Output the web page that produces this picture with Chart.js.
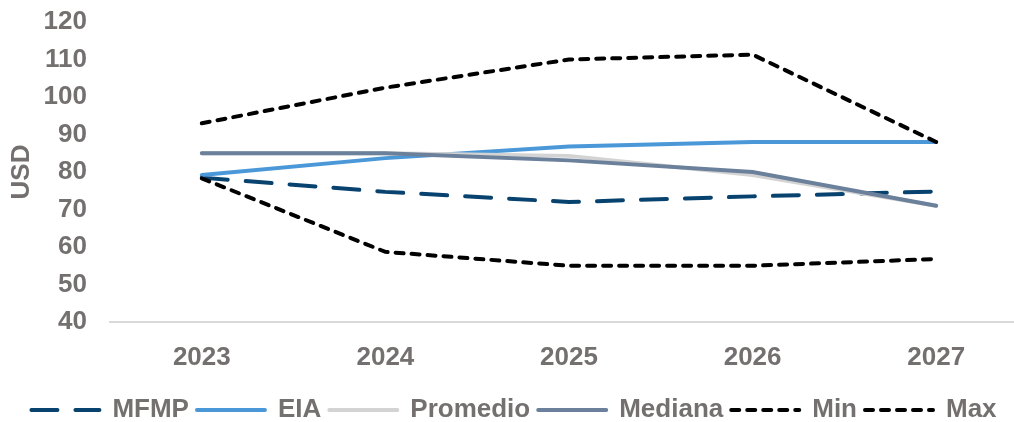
<!DOCTYPE html>
<html>
<head>
<meta charset="utf-8">
<script src="https://cdn.jsdelivr.net/npm/chart.js@4/dist/chart.umd.min.js"></script>
<style>
  html, body { margin: 0; padding: 0; background: #fff; overflow: hidden; }
  #wrap { width: 1028px; height: 433px; }
</style>
</head>
<body>
<div id="wrap"><canvas id="priceChart"></canvas></div>
<script>
const years = ['2023', '2024', '2025', '2026', '2027'];
const mfmp = [78.5, 74.7, 72, 73.5, 74.8];
const eia = [79.2, 83.7, 86.8, 88, 88];
const promedio = [85, 85, 84.3, 79.2, 71];
const mediana = [85, 85, 83.1, 80, 71];
const minVals = [78.3, 58.7, 55, 55, 56.8];
const maxVals = [93, 102.5, 110, 111.3, 88];
const yTicks = [40, 50, 60, 70, 80, 90, 100, 110, 120];

const textGray = '#757070';
const font = { family: 'Liberation Sans, Arial, sans-serif', size: 26, weight: 'bold' };

function series(label, data, color, dash, order) {
    return {
        label: label,
        data: data,
        borderColor: color,
        backgroundColor: color,
        borderWidth: 4,
        borderDash: dash,
        borderCapStyle: 'round',
        pointRadius: 0,
        pointHoverRadius: 0,
        tension: 0,
        fill: false,
        order: order
    };
}

const ctx = document.getElementById('priceChart').getContext('2d');

new Chart(ctx, {
    type: 'line',
    data: {
        labels: years,
        datasets: [
            series('MFMP', mfmp, '#08426e', [26, 18], 6),
            series('EIA', eia, '#4b98d9', [], 5),
            series('Promedio', promedio, '#d3d3d3', [], 4),
            series('Mediana', mediana, '#6b809b', [], 3),
            series('Min', minVals, '#000000', [8, 8], 2),
            series('Max', maxVals, '#000000', [8, 8], 1)
        ]
    },
    options: {
        responsive: true,
        maintainAspectRatio: false,
        animation: false,
        layout: { padding: { top: 22, right: 0, bottom: 0, left: 0 } },
        plugins: {
            legend: {
                position: 'bottom',
                labels: {
                    usePointStyle: true,
                    pointStyle: 'line',
                    pointStyleWidth: 68,
                    boxHeight: 26,
                    padding: 8,
                    color: textGray,
                    font: font,
                    sort: (a, b) => a.datasetIndex - b.datasetIndex,
                    // keep the dash pattern of each line in the legend sample
                    generateLabels: (chart) => {
                        const items = Chart.defaults.plugins.legend.labels.generateLabels(chart);
                        items.forEach(it => {
                            const ds = chart.data.datasets[it.datasetIndex];
                            it.lineDash = ds.borderDash;
                            it.lineCap = 'round';
                            it.strokeStyle = ds.borderColor;
                            it.lineWidth = 4;
                        });
                        return items;
                    }
                }
            },
            tooltip: { enabled: false }
        },
        scales: {
            x: {
                offset: true,
                grid: { display: false },
                border: { display: true, color: '#d9d9d9', width: 2 },
                ticks: { color: textGray, font: font, padding: 12 },
                afterFit: (s) => { s.height = 67; }
            },
            y: {
                min: 40,
                max: 120,
                afterBuildTicks: (s) => { s.ticks = yTicks.map(v => ({ value: v })); },
                grid: { display: false, drawTicks: false },
                border: { display: false },
                ticks: { color: textGray, font: font, padding: 23 },
                title: {
                    display: true,
                    text: 'USD',
                    color: textGray,
                    font: font,
                    padding: { top: 6, bottom: 0 }
                },
                afterFit: (s) => { s.width = 110; s.paddingTop = 0; s.paddingBottom = 0; }
            }
        }
    }
});
</script>
</body>
</html>
